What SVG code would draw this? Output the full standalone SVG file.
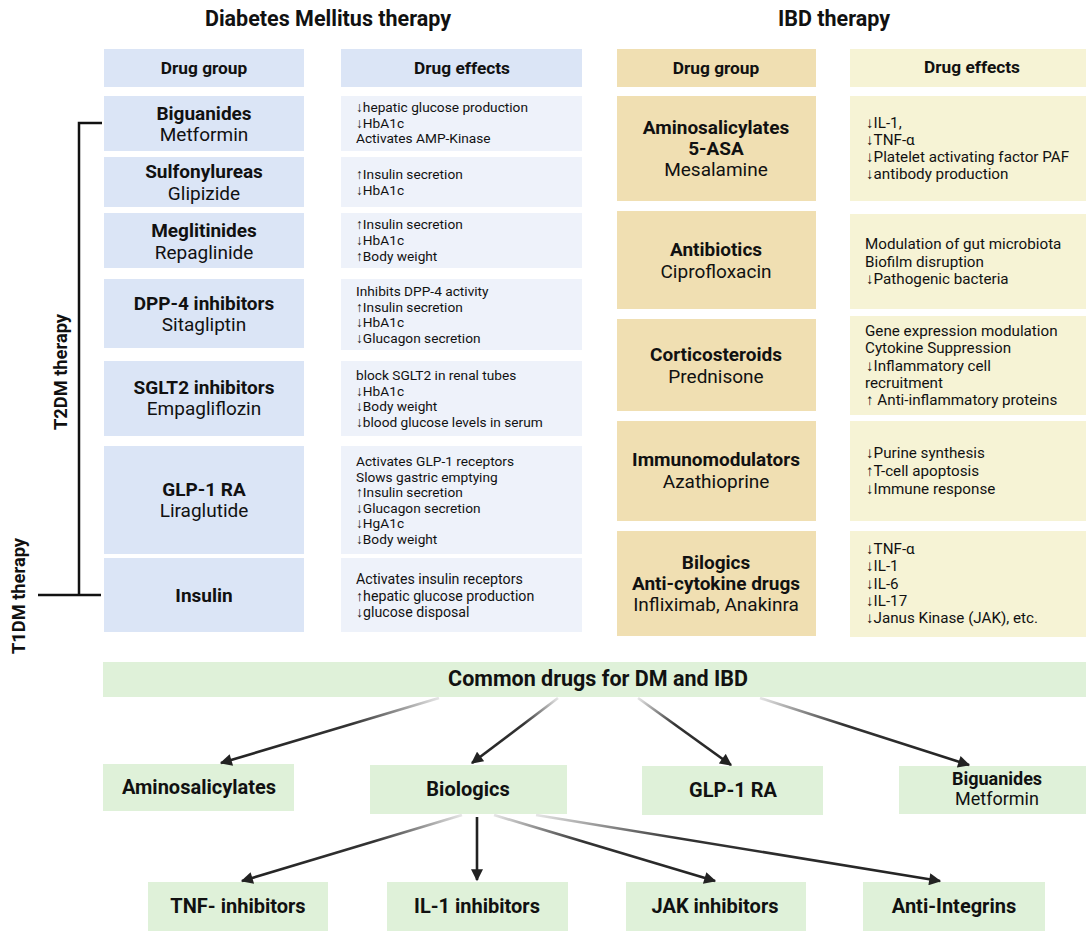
<svg xmlns="http://www.w3.org/2000/svg" width="1086" height="931" viewBox="0 0 1086 931">
<style>
text{font-family:Roboto,"Liberation Sans",sans-serif;fill:#111}
.t{font-size:21.5px;font-weight:bold;text-anchor:middle}
.h{font-size:17.3px;font-weight:bold;text-anchor:middle}
.gb{font-size:19px;font-weight:bold;text-anchor:middle}
.gr{font-size:19px;text-anchor:middle}
.e{font-size:13.7px}
.ei{font-size:15.2px}
.dmg{fill:#dbe5f6}
.dme{fill:#eef2fa}
.ibg{fill:#f0dfb2}
.ibe{fill:#f6f3d5}
.grn{fill:#dff1d9}
.side{font-size:18.3px;font-weight:bold;text-anchor:middle}
.bt{font-size:20px;font-weight:bold;text-anchor:middle}
.br{stroke:#111;stroke-width:2.5;fill:none}
.ar{stroke-width:2.6;fill:none;marker-end:url(#ah)}
</style>
<defs>
<marker id="ah" viewBox="0 0 10 10" refX="9" refY="5" markerWidth="13" markerHeight="12" markerUnits="userSpaceOnUse" orient="auto"><path d="M0,0 L10,5 L0,10 z" fill="#222"/></marker>
<linearGradient id="g1" gradientUnits="userSpaceOnUse" x1="439" y1="698" x2="221" y2="763"><stop offset="0" stop-color="#e6e6e6"/><stop offset="0.4" stop-color="#333"/><stop offset="1" stop-color="#222"/></linearGradient>
<linearGradient id="g2" gradientUnits="userSpaceOnUse" x1="558" y1="698" x2="472" y2="763"><stop offset="0" stop-color="#e6e6e6"/><stop offset="0.4" stop-color="#333"/><stop offset="1" stop-color="#222"/></linearGradient>
<linearGradient id="g3" gradientUnits="userSpaceOnUse" x1="638" y1="698" x2="731" y2="765"><stop offset="0" stop-color="#e6e6e6"/><stop offset="0.4" stop-color="#333"/><stop offset="1" stop-color="#222"/></linearGradient>
<linearGradient id="g4" gradientUnits="userSpaceOnUse" x1="760" y1="698" x2="969" y2="765"><stop offset="0" stop-color="#e6e6e6"/><stop offset="0.4" stop-color="#333"/><stop offset="1" stop-color="#222"/></linearGradient>
<linearGradient id="g5" gradientUnits="userSpaceOnUse" x1="462" y1="815" x2="242" y2="881"><stop offset="0" stop-color="#e6e6e6"/><stop offset="0.4" stop-color="#333"/><stop offset="1" stop-color="#222"/></linearGradient>
<linearGradient id="g7" gradientUnits="userSpaceOnUse" x1="494" y1="815" x2="715" y2="881"><stop offset="0" stop-color="#e6e6e6"/><stop offset="0.4" stop-color="#333"/><stop offset="1" stop-color="#222"/></linearGradient>
<linearGradient id="g8" gradientUnits="userSpaceOnUse" x1="536" y1="815" x2="940" y2="881"><stop offset="0" stop-color="#e6e6e6"/><stop offset="0.35" stop-color="#333"/><stop offset="1" stop-color="#222"/></linearGradient>
</defs>
<rect width="1086" height="931" fill="#fff"/>

<text class="t" x="328" y="26">Diabetes Mellitus therapy</text>
<text class="t" x="834" y="26">IBD therapy</text>

<g id="dm-header-group"><rect class="dmg" x="104" y="49" width="200" height="38"/><text class="h" x="204" y="74">Drug group</text></g>
<g id="dm-header-effects"><rect class="dmg" x="341" y="49" width="241" height="38"/><text class="h" x="462" y="74">Drug effects</text></g>
<g id="ibd-header-group"><rect class="ibg" x="617" y="49" width="199" height="38"/><text class="h" x="716" y="74">Drug group</text></g>
<g id="ibd-header-effects"><rect class="ibe" x="850" y="49" width="236" height="38"/><text class="h" x="972" y="73">Drug effects</text></g>

<!-- DM rows -->
<g id="biguanides"><rect class="dmg" x="104" y="96" width="200" height="55"/><text class="gb" x="204" y="120">Biguanides</text><text class="gr" x="204" y="141">Metformin</text></g>
<g id="biguanides-eff"><rect class="dme" x="341" y="96" width="241" height="55"/><text class="e"><tspan x="356" y="112">↓hepatic glucose production</tspan><tspan x="356" y="128">↓HbA1c</tspan><tspan x="356" y="143">Activates AMP-Kinase</tspan></text></g>

<g id="sulfonylureas"><rect class="dmg" x="104" y="157" width="200" height="50"/><text class="gb" x="204" y="178">Sulfonylureas</text><text class="gr" x="204" y="200">Glipizide</text></g>
<g id="sulfonylureas-eff"><rect class="dme" x="341" y="157" width="241" height="50"/><text class="e"><tspan x="356" y="179">↑Insulin secretion</tspan><tspan x="356" y="195">↓HbA1c</tspan></text></g>

<g id="meglitinides"><rect class="dmg" x="104" y="213" width="200" height="55"/><text class="gb" x="204" y="237">Meglitinides</text><text class="gr" x="204" y="259">Repaglinide</text></g>
<g id="meglitinides-eff"><rect class="dme" x="341" y="213" width="241" height="55"/><text class="e"><tspan x="356" y="229">↑Insulin secretion</tspan><tspan x="356" y="245">↓HbA1c</tspan><tspan x="356" y="261">↑Body weight</tspan></text></g>

<g id="dpp4"><rect class="dmg" x="104" y="279" width="200" height="69"/><text class="gb" x="204" y="310">DPP-4 inhibitors</text><text class="gr" x="204" y="331">Sitagliptin</text></g>
<g id="dpp4-eff"><rect class="dme" x="341" y="279" width="241" height="71"/><text class="e"><tspan x="356" y="296">Inhibits DPP-4 activity</tspan><tspan x="356" y="312">↑Insulin secretion</tspan><tspan x="356" y="327">↓HbA1c</tspan><tspan x="356" y="343">↓Glucagon secretion</tspan></text></g>

<g id="sglt2"><rect class="dmg" x="104" y="361" width="200" height="75"/><text class="gb" x="204" y="394">SGLT2 inhibitors</text><text class="gr" x="204" y="415">Empagliflozin</text></g>
<g id="sglt2-eff"><rect class="dme" x="341" y="361" width="241" height="75"/><text class="e"><tspan x="356" y="380">block SGLT2 in renal tubes</tspan><tspan x="356" y="396">↓HbA1c</tspan><tspan x="356" y="411">↓Body weight</tspan><tspan x="356" y="427">↓blood glucose levels in serum</tspan></text></g>

<g id="glp1"><rect class="dmg" x="104" y="446" width="200" height="108"/><text class="gb" x="204" y="496">GLP-1 RA</text><text class="gr" x="204" y="517">Liraglutide</text></g>
<g id="glp1-eff"><rect class="dme" x="341" y="446" width="241" height="108"/><text class="e"><tspan x="356" y="466">Activates GLP-1 receptors</tspan><tspan x="356" y="482">Slows gastric emptying</tspan><tspan x="356" y="497">↑Insulin secretion</tspan><tspan x="356" y="513">↓Glucagon secretion</tspan><tspan x="356" y="528">↓HgA1c</tspan><tspan x="356" y="544">↓Body weight</tspan></text></g>

<g id="insulin"><rect class="dmg" x="104" y="558" width="200" height="74"/><text class="gb" x="204" y="602">Insulin</text></g>
<g id="insulin-eff"><rect class="dme" x="341" y="558" width="241" height="74"/><text class="e" style="font-size:14.2px"><tspan x="356" y="584">Activates insulin receptors</tspan><tspan x="356" y="601">↑hepatic glucose production</tspan><tspan x="356" y="617">↓glucose disposal</tspan></text></g>

<!-- bracket -->
<g id="bracket">
<path class="br" d="M102,123 H79 V595"/>
<path class="br" d="M38,595 H101"/>
<text class="side" transform="translate(67,372) rotate(-90)">T2DM therapy</text>
<text class="side" transform="translate(25,596) rotate(-90)">T1DM therapy</text>
</g>

<!-- IBD rows -->
<g id="aminosalicylates"><rect class="ibg" x="617" y="96" width="199" height="105"/><text class="gb" x="716" y="134">Aminosalicylates</text><text class="gb" x="716" y="155">5-ASA</text><text class="gr" x="716" y="176">Mesalamine</text></g>
<g id="aminosalicylates-eff"><rect class="ibe" x="850" y="96" width="236" height="105"/><text class="ei"><tspan x="866" y="128">↓IL-1,</tspan><tspan x="866" y="145">↓TNF-α</tspan><tspan x="866" y="162">↓Platelet activating factor PAF</tspan><tspan x="866" y="179">↓antibody production</tspan></text></g>

<g id="antibiotics"><rect class="ibg" x="617" y="211" width="199" height="98"/><text class="gb" x="716" y="256">Antibiotics</text><text class="gr" x="716" y="278">Ciprofloxacin</text></g>
<g id="antibiotics-eff"><rect class="ibe" x="850" y="214" width="236" height="95"/><text class="ei"><tspan x="865" y="249">Modulation of gut microbiota</tspan><tspan x="865" y="267">Biofilm disruption</tspan><tspan x="866" y="284">↓Pathogenic bacteria</tspan></text></g>

<g id="corticosteroids"><rect class="ibg" x="617" y="319" width="199" height="92"/><text class="gb" x="716" y="361">Corticosteroids</text><text class="gr" x="716" y="383">Prednisone</text></g>
<g id="corticosteroids-eff"><rect class="ibe" x="850" y="316" width="236" height="99"/><text class="ei"><tspan x="865" y="336">Gene expression modulation</tspan><tspan x="865" y="353">Cytokine Suppression</tspan><tspan x="866" y="371">↓Inflammatory cell</tspan><tspan x="865" y="388">recruitment</tspan><tspan x="866" y="405">↑ Anti-inflammatory proteins</tspan></text></g>

<g id="immunomodulators"><rect class="ibg" x="617" y="421" width="199" height="100"/><text class="gb" x="716" y="466">Immunomodulators</text><text class="gr" x="716" y="488">Azathioprine</text></g>
<g id="immunomodulators-eff"><rect class="ibe" x="850" y="421" width="236" height="100"/><text class="ei"><tspan x="866" y="458">↓Purine synthesis</tspan><tspan x="866" y="476">↑T-cell apoptosis</tspan><tspan x="866" y="494">↓Immune response</tspan></text></g>

<g id="bilogics"><rect class="ibg" x="617" y="531" width="199" height="105"/><text class="gb" x="716" y="569">Bilogics</text><text class="gb" x="716" y="590">Anti-cytokine drugs</text><text class="gr" x="716" y="611">Infliximab, Anakinra</text></g>
<g id="bilogics-eff"><rect class="ibe" x="850" y="531" width="236" height="106"/><text class="ei"><tspan x="866" y="554">↓TNF-α</tspan><tspan x="866" y="571">↓IL-1</tspan><tspan x="866" y="589">↓IL-6</tspan><tspan x="866" y="606">↓IL-17</tspan><tspan x="866" y="623">↓Janus Kinase (JAK), etc.</tspan></text></g>

<!-- Common drugs -->
<g id="common"><rect class="grn" x="103" y="662" width="983" height="35"/><text class="bt" x="598" y="686" style="font-size:21.5px">Common drugs for DM and IBD</text></g>
<g id="c-aminosalicylates"><rect class="grn" x="103" y="764" width="191" height="47"/><text class="bt" x="199" y="794">Aminosalicylates</text></g>
<g id="c-biologics"><rect class="grn" x="370" y="765" width="197" height="49"/><text class="bt" x="468" y="796">Biologics</text></g>
<g id="c-glp1"><rect class="grn" x="642" y="766" width="181" height="49"/><text class="bt" x="733" y="797">GLP-1 RA</text></g>
<g id="c-biguanides"><rect class="grn" x="899" y="766" width="187" height="48"/><text class="bt" x="997" y="785" style="font-size:18px">Biguanides</text><text class="gr" x="997" y="805" style="font-size:18px">Metformin</text></g>
<g id="c-tnf"><rect class="grn" x="148" y="882" width="180" height="49"/><text class="bt" x="238" y="913">TNF- inhibitors</text></g>
<g id="c-il1"><rect class="grn" x="387" y="882" width="181" height="49"/><text class="bt" x="477" y="913">IL-1 inhibitors</text></g>
<g id="c-jak"><rect class="grn" x="626" y="882" width="180" height="49"/><text class="bt" x="715" y="913">JAK inhibitors</text></g>
<g id="c-integrins"><rect class="grn" x="863" y="882" width="182" height="49"/><text class="bt" x="954" y="913">Anti-Integrins</text></g>

<g id="connectors">
<line class="ar" x1="439" y1="698" x2="221" y2="763" stroke="url(#g1)"/>
<line class="ar" x1="558" y1="698" x2="472" y2="763" stroke="url(#g2)"/>
<line class="ar" x1="638" y1="698" x2="731" y2="765" stroke="url(#g3)"/>
<line class="ar" x1="760" y1="698" x2="969" y2="765" stroke="url(#g4)"/>
<line class="ar" x1="462" y1="815" x2="242" y2="881" stroke="url(#g5)"/>
<line class="ar" x1="477" y1="817" x2="477" y2="880" stroke="#222"/>
<line class="ar" x1="494" y1="815" x2="715" y2="881" stroke="url(#g7)"/>
<line class="ar" x1="536" y1="815" x2="940" y2="881" stroke="url(#g8)"/>
</g>
</svg>
